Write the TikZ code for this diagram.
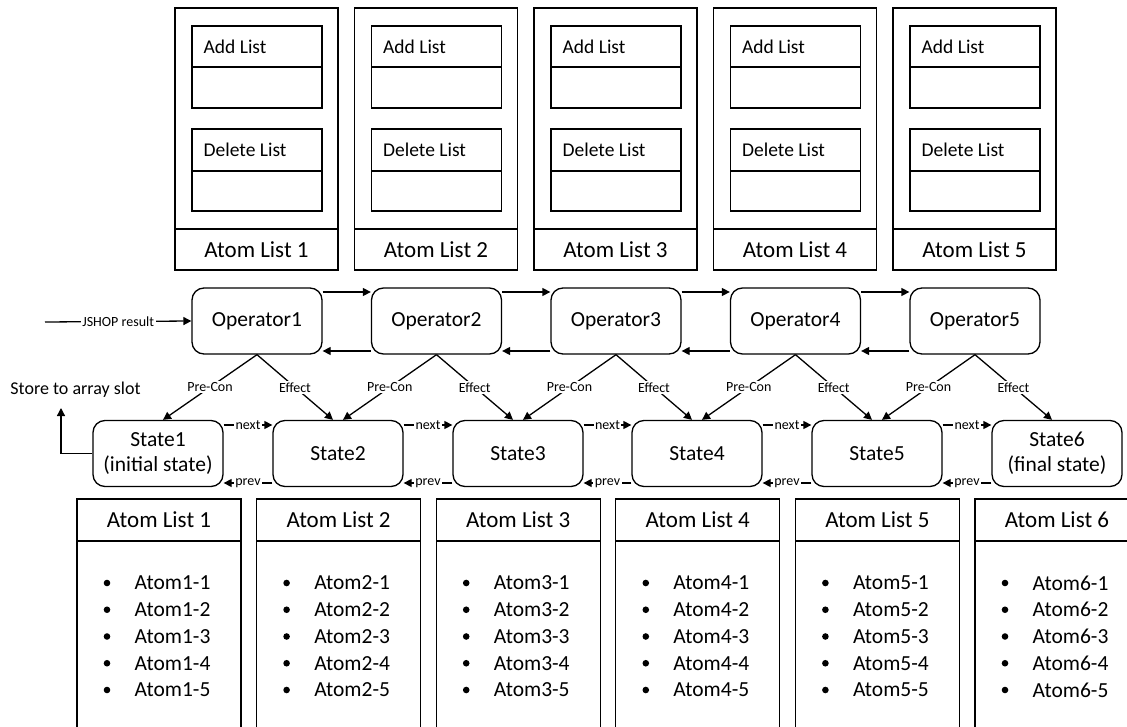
\documentclass[tikz,border=0pt]{standalone}
\usepackage{fontspec}
\setmainfont{Carlito}
\usetikzlibrary{arrows.meta,calc}
\newcommand\fsz[1]{\fontsize{#1}{#1}\selectfont}
\begin{document}
\begin{tikzpicture}[x=1pt,y=-1pt,line width=1.3pt,
  rbox/.style={draw,rounded corners=12,minimum width=130,minimum height=66,inner sep=0,font=\fontsize{21.5}{25}\selectfont,align=center},
  txt/.style={inner sep=0},
  lbl/.style={fill=white,inner sep=1.5,font=\fsz{14}},
  arr/.style={-{Triangle[length=8,width=8]}}]
\useasboundingbox (0,0) rectangle (1127,727);
\clip (0,0) rectangle (1127,727);
% top boxes
\foreach \i in {1,...,5}{
  \pgfmathsetmacro\L{175+179.5*(\i-1)}
  \draw (\L,8) rectangle +(163,262);
  \draw (\L,229) -- +(163,0);
  \draw (\L+17,26) rectangle +(130,82);
  \draw (\L+17,67) -- +(130,0);
  \draw (\L+17,129) rectangle +(130,82);
  \draw (\L+17,171) -- +(130,0);
  \node[txt,anchor=west,font=\fsz{19.5}] (add\i) at (\L+28,46.5) {Add List};
  \node[txt,anchor=west,font=\fsz{19.5}] (del\i) at (\L+28,150) {Delete List};
  \node[txt,font=\fsz{23}] (tal\i) at (\L+81.5,249.5) {Atom List \i};
}
% operators
\foreach \i in {1,...,5}{
  \node[rbox] (op\i) at ({257+179.5*(\i-1)},321) {Operator\i};
}
% states
\node[rbox] (st1) at (158,453.5) {State1\\(initial state)};
\node[rbox] (st2) at (338,453.5) {State2};
\node[rbox] (st3) at (518,453.5) {State3};
\node[rbox] (st4) at (697,453.5) {State4};
\node[rbox] (st5) at (877,453.5) {State5};
\node[rbox] (st6) at (1057,453.5) {State6\\(final state)};
% operator links
\foreach \i/\j in {1/2,2/3,3/4,4/5}{
  \draw[arr] ($(op\i.east)+(0,-29)$) -- ($(op\j.west)+(0,-29)$);
  \draw[arr] ($(op\j.west)+(0,30)$) -- ($(op\i.east)+(0,30)$);
}
% state links
\foreach \i/\j in {1/2,2/3,3/4,4/5,5/6}{
  \draw[arr] ($(st\i.east)+(0,-28.5)$) -- node[lbl]{next} ($(st\j.west)+(0,-28.5)$);
  \draw[arr] ($(st\j.west)+(0,29.5)$) -- node[lbl]{prev} ($(st\i.east)+(0,29.5)$);
}
% pre-con / effect
\foreach \i/\j in {1/2,2/3,3/4,4/5,5/6}{
  \draw[arr] (op\i.south) -- node[lbl]{Pre-Con} ($(st\i.north)+(5,0)$);
  \draw[arr] (op\i.south) -- node[lbl]{Effect} ($(st\j.north)+(-5,0)$);
}
% JSHOP input
\coordinate (js) at (45,322);
\draw[arr] (js) -- node[lbl]{JSHOP result} (op1.west);
% store
\node[txt,font=\fsz{18}] (store) at (75.5,390) {Store to array slot};
\coordinate (sc) at (61,408);
\draw[arr] (st1.west) -| (sc);
% bottom lists
\foreach \i in {1,...,6}{
  \pgfmathsetmacro\L{77+179.6*(\i-1)}
  \draw (\L,499) rectangle (\L+164,745);
  \draw (\L,541) -- (\L+164,541);
  \node[txt,font=\fsz{23}] (bal\i) at (\L+82,520) {Atom List \i};
  \foreach \k in {1,...,5}{
    \pgfmathsetmacro\Y{583+26.75*(\k-1)}
    \fill (\L+30,\Y) circle (3.3);
    \node[txt,anchor=west,font=\fsz{21.5}] (it\i-\k) at (\L+57,\Y) {Atom\i-\k};
  }
}
\end{tikzpicture}
\end{document}
